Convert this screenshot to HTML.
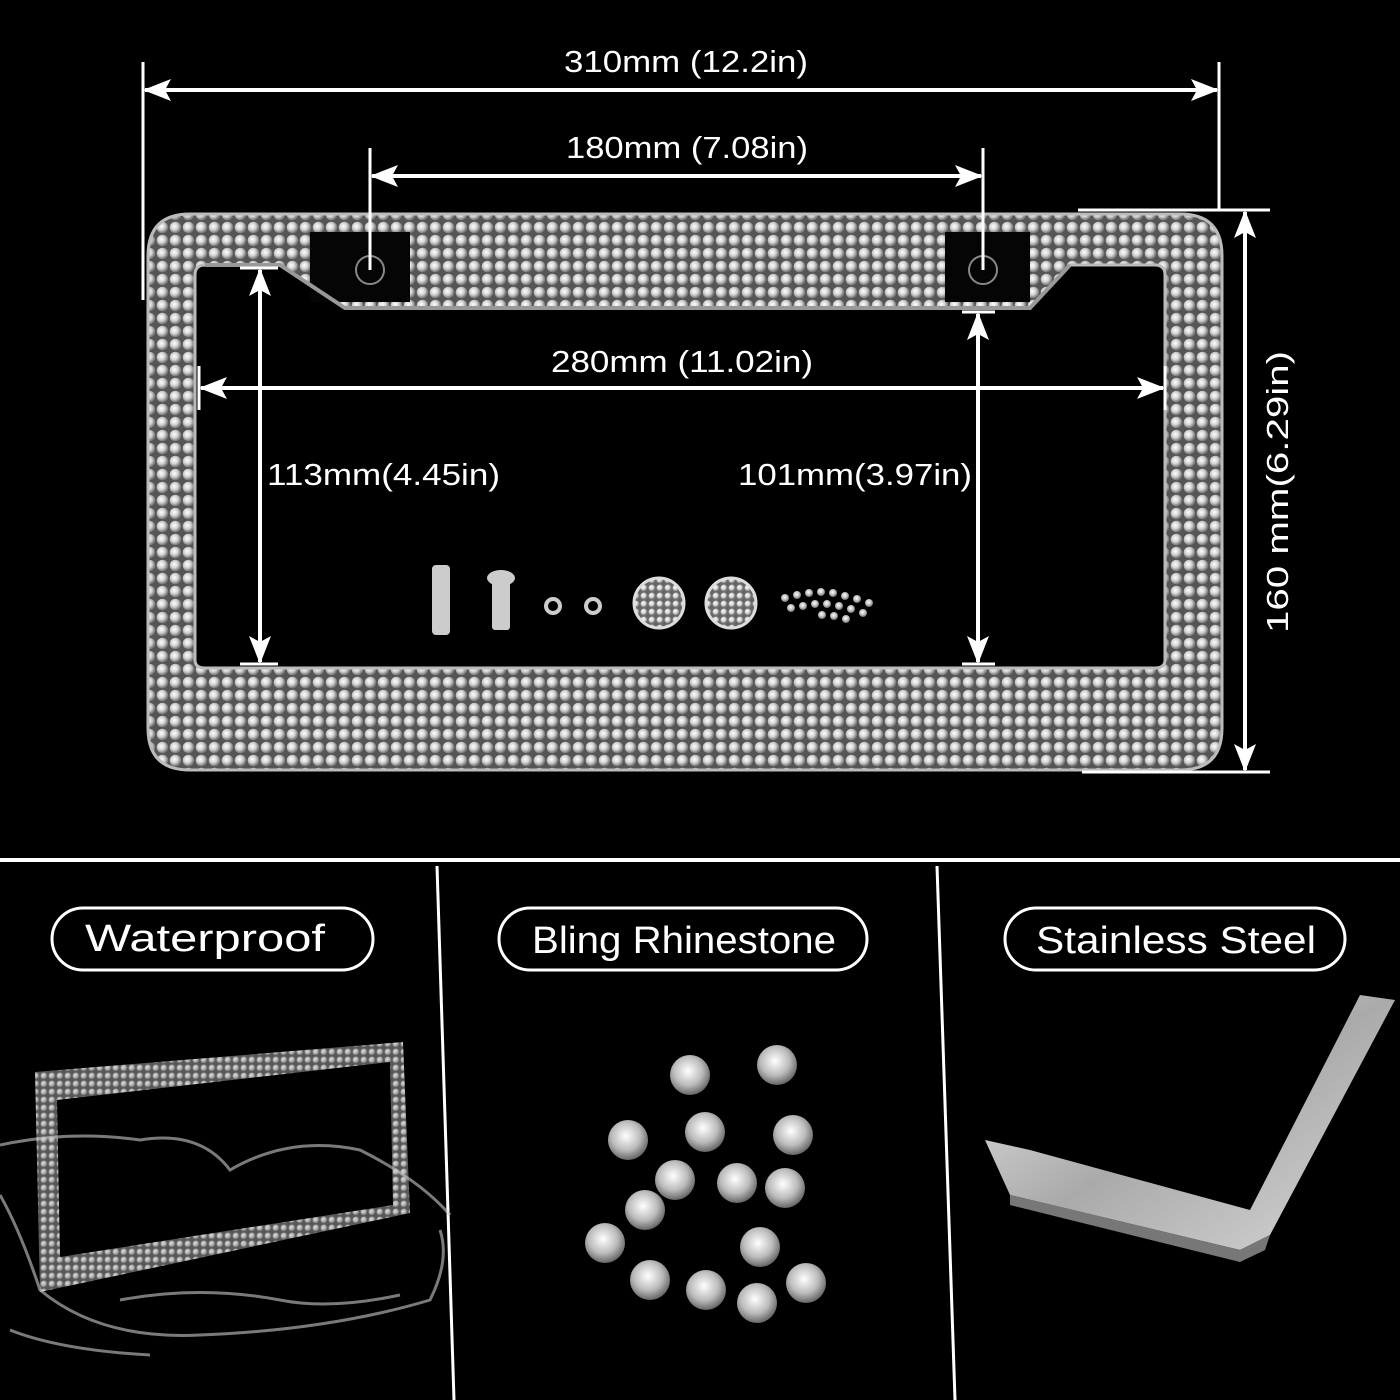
<!DOCTYPE html>
<html><head><style>
html,body{margin:0;padding:0;background:#000;}
svg{display:block}
text{font-family:"Liberation Sans",sans-serif;fill:#fff}
</style></head><body>
<svg width="1400" height="1400" viewBox="0 0 1400 1400" xmlns="http://www.w3.org/2000/svg">
<defs>
<radialGradient id="g" cx="0.4" cy="0.4" r="0.6">
<stop offset="0" stop-color="#ffffff"/><stop offset="0.5" stop-color="#d4d4d4"/><stop offset="1" stop-color="#707070"/>
</radialGradient>
<pattern id="rs" width="13" height="13" patternUnits="userSpaceOnUse">
<rect width="13" height="13" fill="#555"/>
<circle cx="6.5" cy="6.5" r="5.8" fill="url(#g)"/>
</pattern>
<pattern id="rs2" width="8" height="8" patternUnits="userSpaceOnUse">
<rect width="8" height="8" fill="#666"/>
<circle cx="4" cy="4" r="3.5" fill="url(#g)"/>
</pattern>
<radialGradient id="gem" cx="0.45" cy="0.4" r="0.6">
<stop offset="0" stop-color="#fff"/><stop offset="0.6" stop-color="#bbb"/><stop offset="1" stop-color="#666"/>
</radialGradient>
<linearGradient id="steel" x1="0" y1="0" x2="1" y2="1">
<stop offset="0" stop-color="#eee"/><stop offset="0.5" stop-color="#aaa"/><stop offset="1" stop-color="#d8d8d8"/>
</linearGradient>
<marker id="a" markerWidth="28" markerHeight="22" refX="26" refY="11" orient="auto-start-reverse" markerUnits="userSpaceOnUse" viewBox="0 0 28 22">
<path d="M0,0 L28,11 L0,22 L6,11 z" fill="#fff"/>
</marker>
</defs>

<!-- frame -->
<path fill-rule="evenodd" fill="url(#rs)" stroke="#bbb" stroke-width="3"
d="M190,214 H1180 Q1222,214 1222,256 V728 Q1222,770 1180,770 H190 Q148,770 148,728 V256 Q148,214 190,214 Z
M205,265 H280 L345,308 H1030 L1070,265 H1155 Q1165,265 1165,275 V660 Q1165,668 1155,668 H205 Q195,668 195,660 V275 Q195,265 205,265 Z"/>
<rect x="310" y="232" width="100" height="70" fill="#050505"/>
<rect x="945" y="232" width="85" height="70" fill="#050505"/>
<path d="M205,265 H280 L345,308 H1030 L1070,265" fill="none" stroke="#999" stroke-width="4"/>
<circle cx="370" cy="270" r="14" fill="none" stroke="#888" stroke-width="2"/>
<circle cx="983" cy="270" r="14" fill="none" stroke="#888" stroke-width="2"/>

<g stroke="#fff" stroke-width="3" fill="none">
<line x1="143" y1="62" x2="143" y2="300"/>
<line x1="1219" y1="62" x2="1219" y2="210"/>
<line x1="145" y1="90" x2="1217" y2="90" marker-start="url(#a)" marker-end="url(#a)" stroke-width="4"/>
<line x1="370" y1="148" x2="370" y2="270"/>
<line x1="983" y1="148" x2="983" y2="270"/>
<line x1="372" y1="176" x2="981" y2="176" marker-start="url(#a)" marker-end="url(#a)" stroke-width="4"/>
<line x1="199" y1="366" x2="199" y2="410"/>
<line x1="1165" y1="366" x2="1165" y2="410"/>
<line x1="201" y1="388" x2="1163" y2="388" marker-start="url(#a)" marker-end="url(#a)" stroke-width="4"/>
<line x1="240" y1="268" x2="278" y2="268"/>
<line x1="240" y1="664" x2="278" y2="664"/>
<line x1="260" y1="270" x2="260" y2="662" marker-start="url(#a)" marker-end="url(#a)" stroke-width="4"/>
<line x1="962" y1="312" x2="995" y2="312"/>
<line x1="962" y1="664" x2="995" y2="664"/>
<line x1="978" y1="314" x2="978" y2="662" marker-start="url(#a)" marker-end="url(#a)" stroke-width="4"/>
<line x1="1078" y1="210" x2="1270" y2="210"/>
<line x1="1082" y1="772" x2="1270" y2="772"/>
<line x1="1245" y1="212" x2="1245" y2="770" marker-start="url(#a)" marker-end="url(#a)" stroke-width="4"/>
</g>
<text x="564" y="72" font-size="31" textLength="244" lengthAdjust="spacingAndGlyphs">310mm (12.2in)</text>
<text x="566" y="158" font-size="31" textLength="242" lengthAdjust="spacingAndGlyphs">180mm (7.08in)</text>
<text x="551" y="372" font-size="31" textLength="262" lengthAdjust="spacingAndGlyphs">280mm (11.02in)</text>
<text x="267" y="485" font-size="31" textLength="233" lengthAdjust="spacingAndGlyphs">113mm(4.45in)</text>
<text x="738" y="485" font-size="31" textLength="234" lengthAdjust="spacingAndGlyphs">101mm(3.97in)</text>
<text transform="translate(1288,350) rotate(-90)" font-size="31" text-anchor="middle" x="-142" textLength="282" lengthAdjust="spacingAndGlyphs">160 mm(6.29in)</text>

<!-- hardware -->
<g fill="#ccc">
<rect x="432" y="565" width="18" height="70" rx="4"/>
<rect x="492" y="580" width="18" height="50" rx="3"/>
<ellipse cx="501" cy="578" rx="14" ry="8"/>
<circle cx="553" cy="606" r="7" fill="none" stroke="#ccc" stroke-width="4"/>
<circle cx="593" cy="606" r="7" fill="none" stroke="#ccc" stroke-width="4"/>
<circle cx="659" cy="603" r="25" fill="url(#rs2)" stroke="#ddd" stroke-width="3"/>
<circle cx="731" cy="603" r="25" fill="url(#rs2)" stroke="#ddd" stroke-width="3"/>
</g>
<g fill="url(#gem)">
<circle cx="785" cy="598" r="4"/><circle cx="797" cy="595" r="4"/><circle cx="809" cy="593" r="4"/><circle cx="821" cy="592" r="4"/><circle cx="833" cy="593" r="4"/><circle cx="845" cy="596" r="4"/><circle cx="857" cy="599" r="4"/><circle cx="869" cy="603" r="4"/>
<circle cx="791" cy="608" r="4"/><circle cx="803" cy="606" r="4"/><circle cx="815" cy="604" r="4"/><circle cx="827" cy="604" r="4"/><circle cx="839" cy="606" r="4"/><circle cx="851" cy="609" r="4"/><circle cx="863" cy="613" r="4"/>
<circle cx="822" cy="615" r="4"/><circle cx="834" cy="616" r="4"/><circle cx="846" cy="619" r="4"/>
</g>

<!-- bottom -->
<rect x="0" y="858" width="1400" height="4" fill="#fff"/>
<line x1="437" y1="866" x2="454" y2="1400" stroke="#fff" stroke-width="3"/>
<line x1="937" y1="866" x2="955" y2="1400" stroke="#fff" stroke-width="3"/>
<g fill="none" stroke="#fff" stroke-width="3">
<rect x="52" y="908" width="321" height="62" rx="31"/>
<rect x="499" y="908" width="368" height="62" rx="31"/>
<rect x="1005" y="908" width="340" height="62" rx="31"/>
</g>
<text x="85" y="951" font-size="38" textLength="240" lengthAdjust="spacingAndGlyphs">Waterproof</text>
<text x="532" y="953" font-size="38" textLength="304" lengthAdjust="spacingAndGlyphs">Bling Rhinestone</text>
<text x="1036" y="953" font-size="38" textLength="280" lengthAdjust="spacingAndGlyphs">Stainless Steel</text>

<!-- waterproof image -->
<path fill-rule="evenodd" fill="url(#rs2)" opacity="0.85" d="M35,1072 L403,1042 L410,1213 L40,1292 Z M57,1100 L390,1062 L393,1205 L60,1257 Z"/>
<g fill="none" stroke="#ccc" stroke-width="3" opacity="0.6">
<path d="M0,1145 Q70,1130 140,1140 Q200,1130 230,1170 Q290,1135 360,1150 Q420,1180 450,1215"/>
<path d="M0,1195 Q20,1230 40,1290 Q100,1340 200,1335 Q330,1330 430,1300 Q450,1260 440,1230"/>
<path d="M120,1300 Q200,1285 280,1300 Q330,1310 400,1295" />
<path d="M10,1330 Q60,1350 150,1355"/>
</g>

<!-- rhinestones -->
<g fill="url(#gem)">
<circle cx="690" cy="1075" r="20"/><circle cx="777" cy="1065" r="20"/>
<circle cx="628" cy="1140" r="20"/><circle cx="705" cy="1132" r="20"/><circle cx="793" cy="1135" r="20"/>
<circle cx="675" cy="1180" r="20"/><circle cx="737" cy="1183" r="20"/><circle cx="785" cy="1188" r="20"/>
<circle cx="645" cy="1210" r="20"/><circle cx="760" cy="1247" r="20"/>
<circle cx="605" cy="1243" r="20"/><circle cx="650" cy="1280" r="20"/><circle cx="706" cy="1290" r="20"/><circle cx="757" cy="1303" r="20"/><circle cx="806" cy="1283" r="20"/>
</g>

<!-- steel -->
<path d="M985,1140 L1010,1195 L1240,1250 L1270,1235 L1395,1000 L1360,995 L1250,1210 L1030,1150 Z" fill="url(#steel)"/>
<path d="M1010,1195 L1240,1250 L1270,1235 L1265,1250 L1240,1262 L1010,1205 Z" fill="#777"/>
</svg>
</body></html>
